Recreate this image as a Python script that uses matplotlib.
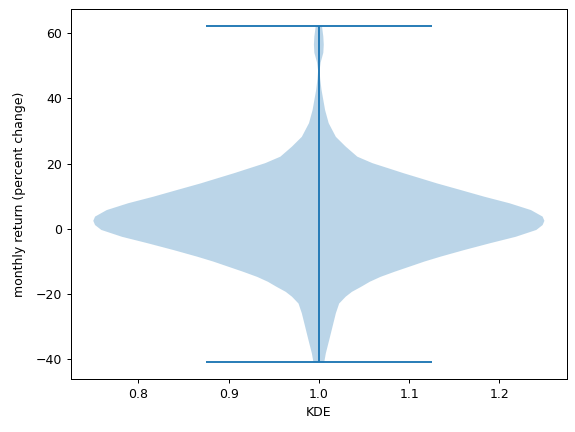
import matplotlib
matplotlib.use("Agg")
import matplotlib.pyplot as plt
import numpy as np

plt.rcParams['font.family'] = ['DejaVu Sans']
plt.rcParams['axes.unicode_minus'] = True

# KDE profile: return level (percent) and relative density
kde_coords = [-41.1, -38.3, -34.2, -30.1, -26.0, -23.0, -20.9, -19.4, -17.9, -16.3,
              -14.8, -13.2, -11.7, -10.1, -8.6, -6.6, -4.5, -2.5, -0.4, 1.1,
              2.4, 3.7, 5.7, 7.8, 9.8, 11.9, 13.9, 15.5, 17.0, 18.6,
              20.1, 22.1, 25.2, 28.2, 32.4, 36.4, 39.5, 42.6, 46.0, 48.5,
              51.0, 54.0, 56.5, 59.0, 62.2]
kde_density = [0.006, 0.0078, 0.0116, 0.0153, 0.019, 0.0227, 0.030, 0.037, 0.047, 0.057,
               0.069, 0.085, 0.101, 0.118, 0.136, 0.162, 0.191, 0.220, 0.243, 0.250,
               0.252, 0.250, 0.237, 0.213, 0.185, 0.158, 0.132, 0.113, 0.095, 0.077,
               0.060, 0.043, 0.030, 0.019, 0.011, 0.007, 0.005, 0.003, 0.0015, 0.0008,
               0.002, 0.005, 0.0055, 0.005, 0.0035]
ret_min = -41.1
ret_max = 62.2
ret_mean = 1.0
ret_median = 1.5

vpstats = [dict(coords=np.array(kde_coords), vals=np.array(kde_density),
                mean=ret_mean, median=ret_median, min=ret_min, max=ret_max,
                quantiles=[])]

fig, ax = plt.subplots(figsize=(575 / 90, 432 / 90), dpi=90)
fig.subplots_adjust(left=0.123, right=0.986, top=0.9785, bottom=0.122)
ax.violin(vpstats, positions=[1], widths=0.5)
ax.set_xlabel("KDE")
ax.set_ylabel("monthly return (percent change)", labelpad=8)
fig.savefig("out.png")
